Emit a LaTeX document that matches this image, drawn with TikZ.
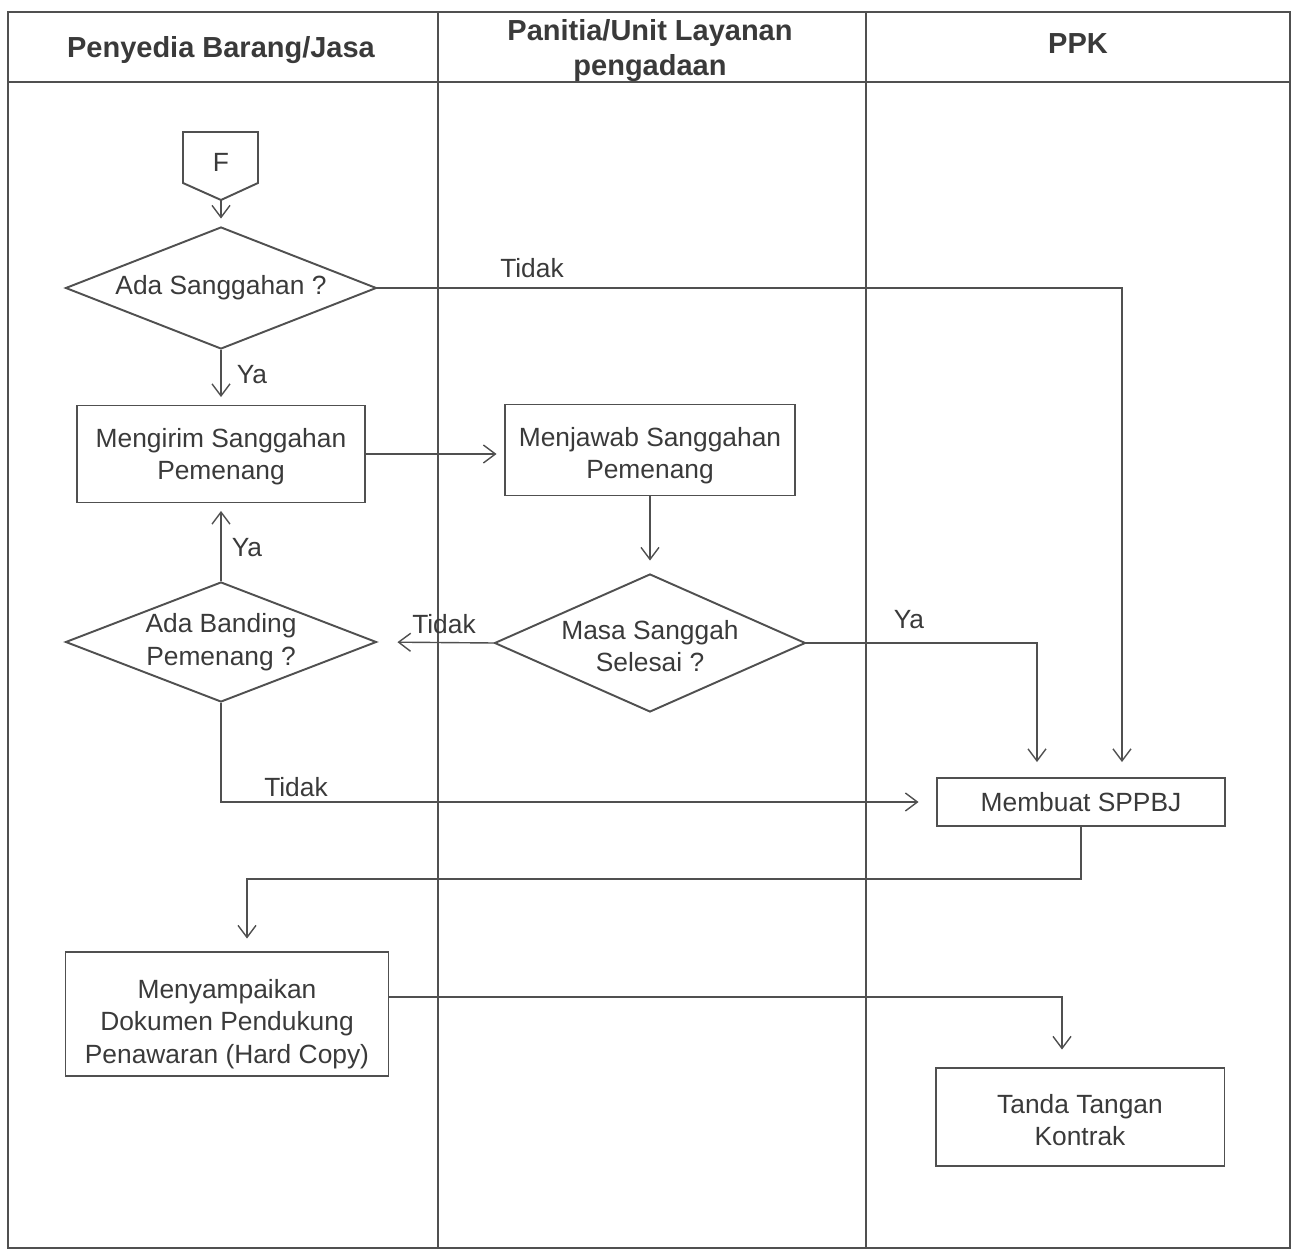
\documentclass[tikz,border=0pt]{standalone}
\usepackage{fontspec}
\setmainfont{Liberation Sans}
\usetikzlibrary{shapes.geometric,arrows.meta}

\definecolor{garis}{HTML}{505050}
\definecolor{tulisan}{HTML}{3A3A3A}

\tikzset{
  lane/.style={draw=garis, line width=0.9pt},
  kepala/.style={align=center, text=tulisan, font=\fontsize{16.5}{20}\selectfont\bfseries},
  proses/.style={draw=garis, line width=1.1pt, align=center, text=tulisan,
    inner sep=0pt, font=\fontsize{15}{18.5}\selectfont},
  keputusan/.style={diamond, draw=garis, line width=1.1pt, inner sep=0pt,
    minimum width=6.22cm},
  isi/.style={align=center, text=tulisan, font=\fontsize{15}{18.5}\selectfont},
  konektor/.style={draw=garis, line width=1.1pt},
  alur/.style={draw=garis, line width=0.8pt, shorten >=0.15cm,
    -{Straight Barb[length=0.24cm, width=0.36cm, line width=0.8pt]}},
  ket/.style={text=tulisan, font=\fontsize{15}{18}\selectfont}
}

\begin{document}
\begin{tikzpicture}[x=0.02cm, y=-0.02cm]
    \useasboundingbox (0,0) rectangle (1296,1253);

    % Swimlanes
    \draw[lane] (8,12) rectangle (1290,1248);
    \draw[lane] (8,82) -- (1290,82);
    \draw[lane] (438,12) -- (438,1248);
    \draw[lane] (866,12) -- (866,1248);

    % Headers
    \node[kepala] (hPenyedia) at (221,50) {Penyedia Barang/Jasa};
    \node[kepala] (hPanitia) at (650,51) {Panitia/Unit Layanan\\pengadaan};
    \node[kepala] (hPPK) at (1078,44) {PPK};

    % Off-page connector F
    \coordinate (Fujung) at (221,200);
    \draw[konektor] (183,132) -- (258,132) -- (258,183) -- (Fujung) -- (183,183) -- cycle;
    \node[isi] (F) at (221,162) {F};

    % Steps
    \node[keputusan, minimum height=2.44cm,
      label={[isi]center:Ada Sanggahan ?}] (dSanggah) at (221,288) {};
    \node[proses, minimum width=5.76cm, minimum height=1.94cm,
      label={[isi, yshift=-0.05cm]center:Mengirim Sanggahan\\Pemenang}] (kirim) at (221,454) {};
    \node[proses, minimum width=5.8cm, minimum height=1.82cm,
      label={[isi, yshift=-0.11cm]center:Menjawab Sanggahan\\Pemenang}] (jawab) at (650,450) {};
    \node[keputusan, minimum height=2.76cm,
      label={[isi, yshift=-0.06cm]center:Masa Sanggah\\Selesai ?}] (dMasa) at (650,643) {};
    \node[keputusan, minimum height=2.4cm,
      label={[isi]center:Ada Banding\\Pemenang ?}] (dBanding) at (221,642) {};
    \node[proses, minimum width=5.76cm, minimum height=0.96cm] (sppbj) at (1081,802) {Membuat SPPBJ};
    \node[proses, minimum width=6.46cm, minimum height=2.48cm,
      label={[isi, yshift=-0.2cm]center:Menyampaikan\\Dokumen Pendukung\\Penawaran (Hard Copy)}] (dokumen) at (227,1014) {};
    \node[proses, minimum width=5.78cm, minimum height=1.96cm,
      label={[isi, yshift=-0.06cm]center:Tanda Tangan\\Kontrak}] (kontrak) at (1080,1117) {};

    % Connectors
    \draw[alur] (Fujung) -- (dSanggah.north);
    \draw[alur, shorten >=0.3cm] (dSanggah.east) -| ([xshift=0.82cm]sppbj.north);
    \draw[alur] (dSanggah.south) -- (kirim.north);
    \draw[alur] (kirim.east) -- (kirim.east -| jawab.west);
    \draw[alur, shorten >=0.25cm] (jawab.south) -- (dMasa.north);
    \draw[alur, shorten >=0.4cm] (dMasa.west) -- (dBanding.east);
    \draw[alur, shorten >=0.3cm] (dMasa.east) -| ([xshift=-0.88cm]sppbj.north);
    \draw[alur] (dBanding.north) -- (kirim.south);
    \draw[alur, shorten >=0.35cm] (dBanding.south) |- (sppbj.west);
    \draw[alur, shorten >=0.25cm] (sppbj.south) -- ++(0,52) -| ([xshift=0.4cm]dokumen.north);
    \draw[alur, shorten >=0.35cm] ([yshift=0.34cm]dokumen.east) -| ([xshift=-0.36cm]kontrak.north);

    % Labels
    \node[ket] (tidakA) at (532,268) {Tidak};
    \node[ket] (yaA) at (252,375) {Ya};
    \node[ket] (yaB) at (247,548) {Ya};
    \node[ket] (tidakB) at (444,624) {Tidak};
    \node[ket] (yaC) at (909,620) {Ya};
    \node[ket] (tidakC) at (296,787) {Tidak};
\end{tikzpicture}
\end{document}
